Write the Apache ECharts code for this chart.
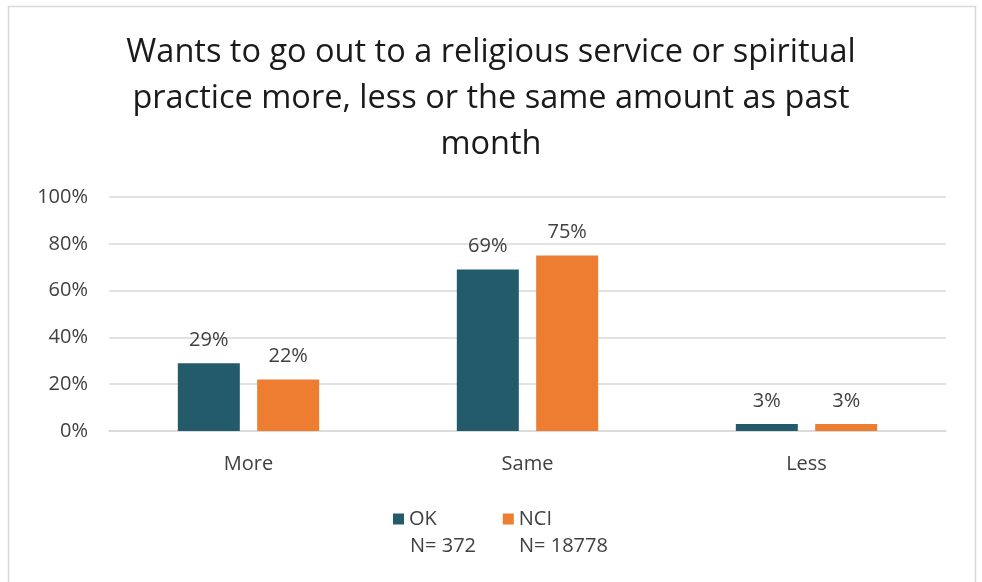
<!DOCTYPE html>
<html>
<head>
<meta charset="utf-8">
<script src="https://cdn.jsdelivr.net/npm/echarts@6/dist/echarts.min.js"></script>
<style>
  html, body { margin: 0; padding: 0; background: #fff; }
  #chart { width: 982px; height: 582px; }
</style>
</head>
<body>
<div id="chart"></div>
<script>
// chart data
var categories = ['More', 'Same', 'Less'];
var seriesNames = ['OK', 'NCI'];
var sampleSizes = ['N= 372', 'N= 18778'];
var okValues = [29, 69, 3];
var nciValues = [22, 75, 3];
var titleText = 'Wants to go out to a religious service or spiritual\npractice more, less or the same amount as past\nmonth';

var font = '"Open Sans", "Noto Sans", sans-serif';
var txt = '#404040';

var chart = echarts.init(document.getElementById('chart'));
chart.setOption({
  animation: false,
  color: ['#235b6b', '#ed7d31'],
  title: {
    text: titleText,
    left: 'center',
    top: 25,
    textStyle: {
      fontFamily: font,
      fontSize: 32.5,
      fontWeight: 'normal',
      color: '#1a1a1a',
      lineHeight: 46
    }
  },
  legend: {
    data: seriesNames,
    left: 388,
    top: 504,
    itemWidth: 11,
    itemHeight: 11,
    itemGap: 66,
    icon: 'rect',
    textStyle: { fontFamily: font, fontSize: 20, color: txt }
  },
  grid: { left: 109, right: 36, top: 197, bottom: 151 },
  xAxis: {
    type: 'category',
    data: categories,
    axisTick: { show: false },
    axisLine: { lineStyle: { color: '#d9d9d9', width: 1.5 } },
    axisLabel: { margin: 23, fontFamily: font, fontSize: 20, color: txt }
  },
  yAxis: {
    type: 'value',
    min: 0,
    max: 100,
    interval: 20,
    axisLabel: { formatter: '{value}%', margin: 21, fontFamily: font, fontSize: 20, color: txt },
    splitLine: { lineStyle: { color: '#d9d9d9', width: 1.5 } }
  },
  series: [
    {
      name: seriesNames[0],
      type: 'bar',
      data: okValues,
      barWidth: 62,
      barGap: '28%',
      label: { show: true, position: 'top', distance: 13, formatter: '{c}%', fontFamily: font, fontSize: 20, color: txt }
    },
    {
      name: seriesNames[1],
      type: 'bar',
      data: nciValues,
      barWidth: 62,
      label: { show: true, position: 'top', distance: 13, formatter: '{c}%', fontFamily: font, fontSize: 20, color: txt }
    }
  ],
  graphic: [
    {
      type: 'rect',
      shape: { x: 8.5, y: 6.5, width: 967, height: 600 },
      style: { fill: 'none', stroke: '#d9d9d9', lineWidth: 1.5 },
      silent: true
    },
    {
      type: 'text', left: 410, top: 536,
      style: { text: sampleSizes[0], fontFamily: font, fontSize: 20, fill: txt }
    },
    {
      type: 'text', left: 519, top: 536,
      style: { text: sampleSizes[1], fontFamily: font, fontSize: 20, fill: txt }
    }
  ]
});
</script>
</body>
</html>
